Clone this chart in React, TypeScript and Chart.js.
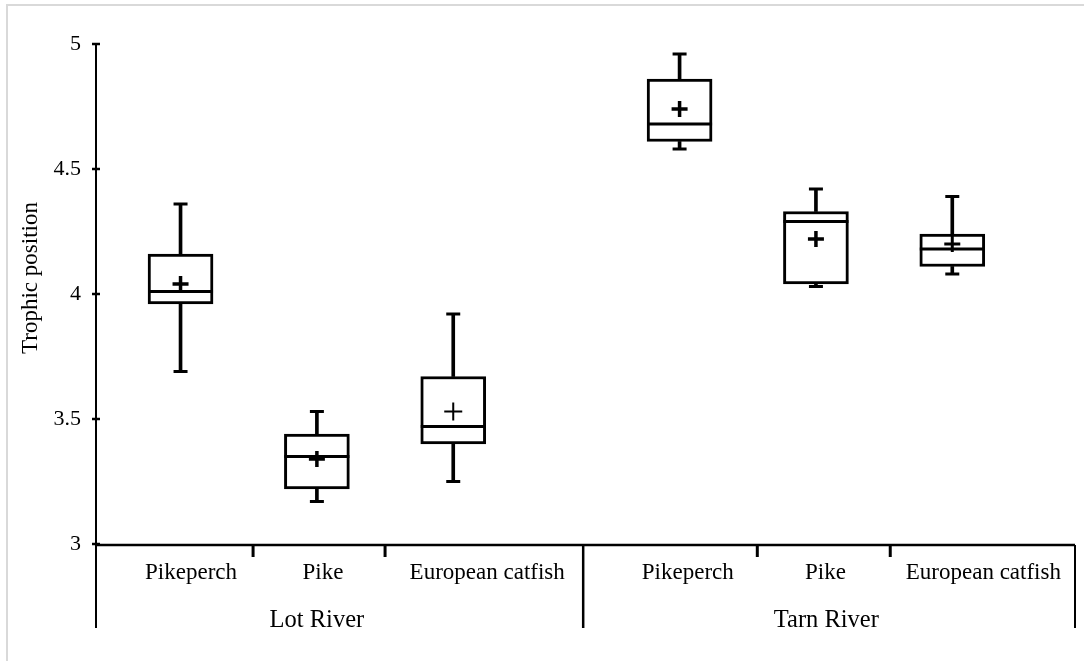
import React, { useEffect, useRef } from 'react';
import { Chart, registerables } from 'chart.js';

Chart.register(...registerables);

// Trophic position of three predatory fish in two rivers
const speciesNames = ['Pikeperch', 'Pike', 'European catfish'];
const riverNames = ['Lot River', 'Tarn River'];

// One entry per box: Lot (Pikeperch, Pike, Catfish), then Tarn (same order)
const whiskerLow = [3.69, 3.17, 3.25, 4.58, 4.03, 4.08];
const quartile1 = [3.96, 3.22, 3.4, 4.61, 4.04, 4.11];
const medians = [4.01, 3.35, 3.47, 4.68, 4.29, 4.18];
const means = [4.04, 3.34, 3.53, 4.74, 4.22, 4.2];
const quartile3 = [4.16, 3.44, 3.67, 4.86, 4.33, 4.24];
const whiskerHigh = [4.36, 3.53, 3.92, 4.96, 4.42, 4.39];

const Y_MIN = 3;
const Y_MAX = 5;
const Y_STEP = 0.5;

// x layout (in x-scale units)
const GROUP_STRIDE = 3.66;
const X_MIN = 0.38;
const X_MAX = 7.56;
const boxX = (i: number) => Math.floor(i / 3) * GROUP_STRIDE + (i % 3) + 1;
const SPECIES_LABEL_X = [1.077, 2.045, 3.249, 4.72, 5.73, 6.888];
const MINOR_TICK_X = [1.532, 2.5, 5.23, 6.205];
const GROUP_DIVIDER_X = [3.953];
const RIVER_LABEL_X = [2.0, 5.736];

const FONT = '"Liberation Serif", "Times New Roman", serif';
const BOX_WIDTH = 65;

const pts = (vals: number[]) => vals.map((v, i) => ({ x: boxX(i), y: v }));
const spans = (lo: number[], hi: number[]) => lo.map((v, i) => ({ x: boxX(i), y: [v, hi[i]] }));

const axesPlugin = {
  id: 'categoryAxes',
  beforeDraw(chart: any) {
    const { ctx } = chart;
    ctx.save();
    ctx.strokeStyle = '#d9d9d9';
    ctx.lineWidth = 2;
    ctx.strokeRect(7, 5, 1200, 800);
    ctx.restore();
  },
  afterDraw(chart: any) {
    const { ctx, chartArea, scales } = chart;
    const xs = scales.x;
    const ys = scales.y;
    const left = chartArea.left;
    const right = chartArea.right;
    const axisY = chartArea.bottom + 1;
    const frameBottom = 628;

    const line = (x1: number, y1: number, x2: number, y2: number, w: number) => {
      ctx.beginPath();
      ctx.lineWidth = w;
      ctx.moveTo(x1, y1);
      ctx.lineTo(x2, y2);
      ctx.stroke();
    };

    ctx.save();
    ctx.strokeStyle = '#000';
    ctx.fillStyle = '#000';

    // value axis
    line(left, ys.getPixelForValue(Y_MAX) - 1, left, frameBottom, 2);
    for (let v = Y_MIN; v <= Y_MAX + 1e-9; v += Y_STEP) {
      const py = ys.getPixelForValue(v);
      line(left - 4, py, left + 4, py, 2.5);
    }

    // category axis
    line(left - 1, axisY, right, axisY, 2.5);
    line(right, axisY, right, frameBottom, 2);
    GROUP_DIVIDER_X.forEach((u) => {
      const px = xs.getPixelForValue(u);
      line(px, axisY, px, frameBottom, 2.5);
    });
    MINOR_TICK_X.forEach((u) => {
      const px = xs.getPixelForValue(u);
      line(px, axisY, px, axisY + 12, 3);
    });

    ctx.textAlign = 'center';
    ctx.textBaseline = 'alphabetic';
    ctx.font = `23px ${FONT}`;
    SPECIES_LABEL_X.forEach((u, i) => {
      ctx.fillText(speciesNames[i % 3], xs.getPixelForValue(u), 579);
    });
    ctx.font = `24.5px ${FONT}`;
    RIVER_LABEL_X.forEach((u, i) => {
      ctx.fillText(riverNames[i], xs.getPixelForValue(u), 627);
    });

    // value axis title
    ctx.save();
    ctx.translate(37, 278);
    ctx.rotate(-Math.PI / 2);
    ctx.font = `23px ${FONT}`;
    ctx.fillText('Trophic position', 0, 0);
    ctx.restore();

    ctx.restore();
  },
};

export default function App() {
  const canvasRef = useRef<HTMLCanvasElement | null>(null);

  useEffect(() => {
    if (!canvasRef.current) return;
    const chart = new Chart(canvasRef.current, {
      type: 'bar',
      data: {
        datasets: [
          {
            type: 'scatter',
            label: 'Mean',
            data: pts(means),
            pointStyle: 'cross',
            pointRadius: [8, 8, 9, 8, 8, 8],
            pointHoverRadius: [8, 8, 9, 8, 8, 8],
            pointBorderWidth: [3.5, 3.5, 2, 3.5, 3.5, 3],
            pointHoverBorderWidth: [3.5, 3.5, 2, 3.5, 3.5, 3],
            pointBorderColor: '#000',
            order: 1,
          } as any,
          {
            type: 'scatter',
            label: 'Median',
            data: pts(medians),
            pointStyle: 'line',
            pointRadius: BOX_WIDTH / 2,
            pointHoverRadius: BOX_WIDTH / 2,
            pointBorderWidth: 3,
            pointHoverBorderWidth: 3,
            pointBorderColor: '#000',
            order: 2,
          } as any,
          {
            type: 'scatter',
            label: 'Whisker caps',
            data: [...pts(whiskerLow), ...pts(whiskerHigh)],
            pointStyle: 'line',
            pointRadius: 7,
            pointHoverRadius: 7,
            pointBorderWidth: 3,
            pointHoverBorderWidth: 3,
            pointBorderColor: '#000',
            order: 2,
          } as any,
          {
            label: 'Interquartile range',
            data: spans(quartile1, quartile3),
            backgroundColor: '#fff',
            borderColor: '#000',
            borderWidth: 3,
            borderSkipped: false,
            barThickness: BOX_WIDTH,
            grouped: false,
            order: 3,
          } as any,
          {
            label: 'Lower whisker',
            data: spans(whiskerLow, quartile1),
            backgroundColor: '#000',
            borderWidth: 0,
            barThickness: 3,
            grouped: false,
            order: 4,
          } as any,
          {
            label: 'Upper whisker',
            data: spans(quartile3, whiskerHigh),
            backgroundColor: '#000',
            borderWidth: 0,
            barThickness: 3,
            grouped: false,
            order: 4,
          } as any,
        ],
      },
      options: {
        responsive: false,
        animation: false,
        devicePixelRatio: 1,
        layout: { autoPadding: false, padding: { top: 44, bottom: 117, left: 0, right: 9 } },
        plugins: { legend: { display: false }, tooltip: { enabled: false } },
        scales: {
          x: {
            type: 'linear',
            display: false,
            offset: false,
            min: X_MIN,
            max: X_MAX,
          },
          y: {
            type: 'linear',
            min: Y_MIN,
            max: Y_MAX,
            grid: { display: false, drawTicks: false },
            border: { display: false },
            ticks: {
              stepSize: Y_STEP,
              padding: 15,
              color: '#000',
              font: { family: FONT, size: 22 },
              callback: (v: number) => String(v),
            },
            afterFit(scale: any) {
              scale.width = 96;
            },
          },
        },
      } as any,
      plugins: [axesPlugin],
    });
    return () => chart.destroy();
  }, []);

  return (
    <div style={{ position: 'absolute', left: 0, top: 0, width: 1084, height: 661, background: '#fff' }}>
      <canvas ref={canvasRef} width={1084} height={661} style={{ display: 'block' }} />
    </div>
  );
}
